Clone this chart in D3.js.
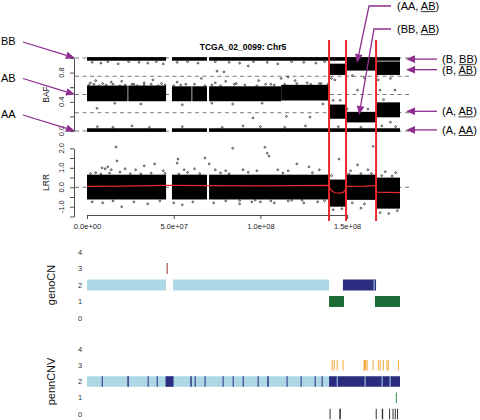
<!DOCTYPE html>
<html><head><meta charset="utf-8">
<script src="https://cdn.jsdelivr.net/npm/d3@7"></script>
<style>
html,body{margin:0;padding:0;background:#fff;}
svg{display:block;font-family:"Liberation Sans",Arial,Helvetica,sans-serif;}
</style></head><body>
<svg id="c" width="480" height="420"></svg>
<script>
// ---------------- DATA (positions in Mb) ----------------
const chartTitle = "TCGA_02_0099: Chr5";
const xTickValues = [0, 50, 100, 150];
const xTickLabels = ["0.0e+00", "5.0e+07", "1.0e+08", "1.5e+08"];
const bafTickValues = [0, 0.2, 0.4, 0.6, 0.8, 1.0];
const bafTickLabels = ["0.0", "", "0.4", "", "0.8", ""];
const lrrTickValues = [-1.5, -1, -0.5, 0, 0.5, 1, 1.5, 2];
const lrrTickLabels = ["", "-1.0", "", "0.0", "", "1.0", "", "2.0"];
const bafRefLines = [0, 0.25, 0.5, 0.75, 1];
const lrrRefLines = [0];
const breakpoints = [139.6, 149.4, 166.7];

// dense BAF clusters (start, end, low, high)
const bafBandStart = [0, 49.0, 70.4,   0, 49.0, 70.4,   0, 23.8, 49.0, 60.7, 70.4, 112,   139.6, 139.6, 149.4, 149.4, 166.7, 166.7];
const bafBandEnd   = [45.6, 69.2, 180.5, 45.6, 69.2, 180.5, 23.4, 45.6, 60.3, 69.2, 112, 139.6, 149.4, 149.4, 166.7, 166.7, 180.5, 180.5];
const bafBandLow   = [0.975, 0.975, 0.975, 0, 0, 0, 0.42, 0.42, 0.42, 0.42, 0.42, 0.43, 0.78, 0.18, 0.84, 0.13, 0.78, 0.20];
const bafBandHigh  = [1, 1, 1, 0.025, 0.025, 0.025, 0.61, 0.61, 0.60, 0.60, 0.60, 0.62, 0.91, 0.35, 0.96, 0.25, 0.94, 0.38];

// scattered BAF points
const bafPointX = [3,8,12,18,24,30,35,40,44,52,58,64,74,82,88,96,104,110,118,125,132,137,75,79,93,
  2,5,9,14,20,27,33,38,43,52,57,66,74,80,86,99,106,112,116,120,127,134,
  5.8,16,31,55,72,84,95.7,101,115,128.6,136,
  6,15,26,36,55,78,90,100,114,126,145,158,170,178,
  146,156,169,177.6,171,141,143,153,160,168,175,142,150,162,175,
  1,4,7,11,15,19,22,26,29,33,37,41,45,50,54,62,68,72,77,85,91,98,103,108,114,121,129,135,139];
const bafPointY = [0.94,0.93,0.95,0.92,0.95,0.94,0.93,0.95,0.92,0.94,0.95,0.93,0.95,0.94,0.93,0.95,0.94,0.92,0.95,0.94,0.93,0.95,0.82,0.81,0.89,
  0.66,0.69,0.65,0.67,0.68,0.64,0.66,0.70,0.65,0.67,0.64,0.72,0.66,0.68,0.65,0.69,0.64,0.72,0.74,0.69,0.66,0.65,
  0.31,0.38,0.37,0.36,0.38,0.37,0.18,0.38,0.20,0.19,0.37,
  0.06,0.05,0.07,0.05,0.06,0.05,0.07,0.06,0.05,0.07,0.06,0.05,0.07,0.06,
  0.42,0.56,0.56,0.56,0.43,0.72,0.70,0.76,0.73,0.70,0.72,0.42,0.30,0.30,0.12,
  0.63,0.64,0.62,0.63,0.64,0.62,0.63,0.64,0.62,0.63,0.64,0.62,0.63,0.62,0.63,0.64,0.62,0.63,0.62,0.64,0.63,0.62,0.64,0.63,0.64,0.65,0.64,0.65,0.64];

// dense LRR clusters
const lrrBandStart = [0, 49.0, 70.4, 139.6, 149.4, 166.7];
const lrrBandEnd   = [45.6, 69.2, 139.6, 149.4, 166.7, 180.5];
const lrrBandLow   = [-0.58, -0.58, -0.58, -0.95, -0.6, -1.05];
const lrrBandHigh  = [0.6, 0.6, 0.6, 0.35, 0.6, 0.45];

// scattered LRR points
const lrrPointX = [16.7,17.3,8.7,10.5,12,14,22,28,33,39,44,52,52.5,56,62,68,70.5,74,80,84,90,98,102.6,104,105,110,116,121,128,134,145.3,141,156,158,165,152,162,172,178,
  3,9,15,20,27,35,42,50,55,61,73,80,88,95,100,108,116,125,133,142,147,153,160,169,174,179,
  5,19,37,58,77,93,113,130,2,8,13,25,31,45,53,65,82,88,97,106,118,124,137,151,158,164,170,176];
const lrrPointY = [2.07,1.35,1.0,0.95,1.05,0.9,0.95,0.9,1.1,1.2,0.85,1.24,1.45,0.9,0.95,1.5,1.2,0.9,0.85,2.0,0.9,0.85,2.05,1.75,1.6,0.9,0.85,1.2,1.05,0.9,1.45,0.6,1.15,-1.07,2.1,0.85,0.9,0.8,0.75,
  -0.75,-0.8,-0.7,-1.0,-0.75,-0.85,-0.7,-0.8,-0.9,-0.75,-0.8,-0.7,-0.85,-0.75,-0.75,-0.8,-0.7,-0.8,-0.75,-1.15,-1.1,-0.8,-0.85,-1.3,-1.35,-1.2,
  0.75,0.78,0.72,0.76,0.74,0.77,0.73,0.75,0.7,0.68,0.72,0.7,0.69,0.71,0.68,0.7,0.69,-0.68,-0.66,-0.7,-0.67,-0.66,-0.69,0.68,0.7,0.7,0.6,0.58];

// smoothed LRR (red line)
const lrrSmoothX = [0, 20, 45, 49, 70, 100, 120, 139.4, 140, 141.5, 143, 146, 148, 149.2, 149.6, 160, 166.5, 166.8, 180.5];
const lrrSmoothY = [0.05, 0.06, 0.1, 0.1, 0.08, 0.07, 0.08, 0.1, -0.05, -0.2, -0.28, -0.3, -0.25, -0.1, 0.05, 0.06, 0.08, -0.25, -0.27];

// genoCN calls
const genoStart = [0, 49.6, 147.6, 165.3, 139.6, 166.1, 45.9];
const genoEnd   = [45.6, 139.6, 166.7, 165.6, 148.2, 180.5, 46.6];
const genoCN    = [2, 2, 2, 2, 1, 1, 3];
const genoState = ["het", "het", "loh", "het", "del", "del", "dup"];

// pennCNV calls
const pennStart = [0, 139.6,
  8.5, 23.3, 35.0, 40.2, 45.3, 59.6, 62.1, 67.8, 78.2, 84.0, 89.8, 98.4, 104.0, 115.1, 123.2, 131.3, 135.3,
  144.0, 160.1, 169.9, 174.5,
  141.1, 142.3, 144.0, 147.4, 159.5, 161.3, 164.7, 167.7, 168.8, 170.6, 172.7, 173.5, 179.3,
  178.1,
  139.9, 145.5, 166.5, 170.0, 174.2, 176.2, 177.5, 178.8];
const pennEnd = [139.6, 180.5,
  8.9, 24.1, 35.4, 40.6, 49.9, 60.4, 62.5, 68.2, 78.6, 84.4, 90.2, 98.8, 104.8, 115.5, 123.6, 131.7, 135.7,
  144.4, 160.5, 170.3, 174.9,
  141.4, 142.6, 144.3, 147.7, 161.0, 161.6, 165.0, 168.0, 169.2, 170.9, 173.0, 173.8, 179.6,
  178.4,
  140.2, 146.4, 166.8, 170.8, 174.5, 176.5, 177.8, 179.1];
const pennCN = [2, 2,
  2,2,2,2,2,2,2,2,2,2,2,2,2,2,2,2,2,
  2,2,2,2,
  3,3,3,3,3,3,3,3,3,3,3,3,3,
  1,
  0,0,0,0,0,0,0,0];
const pennState = ["het", "loh",
  "loh","loh","loh","loh","loh","loh","loh","loh","loh","loh","loh","loh","loh","loh","loh","loh","loh",
  "het","het","het","het",
  "dup","dup","dup","dup","dup","dup","dup","dup","dup","dup","dup","dup","dup",
  "del",
  "zero","zero","zero","zero","zero","zero","zero","zero"];

const cnTicks = [0, 1, 2, 3, 4];

// annotations
const leftLabels = ["BB", "AB", "AA"];
const leftTargets = [1, 0.5, 0];
const rightLabels = ["(B, BB)", "(B, AB)", "(A, AB)", "(A, AA)"];
const rightUnder = [[4, 2], [4, 2], [4, 2], [4, 2]];
const rightTargets = [0.985, 0.84, 0.27, 0.015];
const topLabels = ["(AA, AB)", "(BB, AB)"];
const topUnder = [[5, 2], [5, 2]];
const topTargetX = [155.7, 156.9];
const topTargetY = [0.93, 0.22];

// ---------------- DRAWING ----------------
const svg = d3.select("#c");
const x = d3.scaleLinear().domain([0, 150]).range([87, 347.1]);
const yB = d3.scaleLinear().domain([0, 1]).range([131, 58]);
const yL = d3.scaleLinear().domain([-1.5, 2]).range([216.5, 148.3]);
const yG = d3.scaleLinear().domain([0, 4]).range([318, 252]);
const yP = d3.scaleLinear().domain([0, 4]).range([414, 349]);
const PURPLE = "#8E2E8E", RED = "#E8292B";
const genoColor = {het: "#ADD8E6", loh: "#2C2E82", del: "#1D6B36", dup: "#A85A5A"};
const pennColor = {het: "#ADD8E6", loh: "#2A2C80", del: "#2E8B4A", dup: "#F5A93A", zero: "#333"};
const R = 0.9;

// title
svg.append("text").attr("x", 243).attr("y", 50).attr("text-anchor", "middle")
  .attr("font-size", 8.5).attr("font-weight", "bold").text(chartTitle);

// reference dashed lines
svg.append("g").selectAll("line").data(bafRefLines).join("line")
  .attr("x1", 75).attr("x2", 410).attr("y1", d => yB(d)).attr("y2", d => yB(d))
  .attr("stroke", "#555").attr("stroke-width", 0.8).attr("stroke-dasharray", "4,3.5");
svg.append("g").selectAll("line").data(lrrRefLines).join("line")
  .attr("x1", 75).attr("x2", 410).attr("y1", d => yL(d)).attr("y2", d => yL(d))
  .attr("stroke", "#555").attr("stroke-width", 0.8).attr("stroke-dasharray", "4,3.5");

// BAF bands
svg.append("g").selectAll("rect").data(d3.range(bafBandStart.length)).join("rect")
  .attr("x", i => x(bafBandStart[i])).attr("width", i => x(bafBandEnd[i]) - x(bafBandStart[i]))
  .attr("y", i => yB(bafBandHigh[i]) - R)
  .attr("height", i => yB(bafBandLow[i]) - yB(bafBandHigh[i]) + 2 * R)
  .attr("fill", "#000");
svg.append("g").selectAll("circle").data(d3.range(bafPointX.length)).join("circle")
  .attr("cx", i => x(bafPointX[i])).attr("cy", i => yB(bafPointY[i])).attr("r", R)
  .attr("fill", "none").attr("stroke", "#111").attr("stroke-width", 0.7);

// LRR bands
svg.append("g").selectAll("rect").data(d3.range(lrrBandStart.length)).join("rect")
  .attr("x", i => x(lrrBandStart[i])).attr("width", i => x(lrrBandEnd[i]) - x(lrrBandStart[i]))
  .attr("y", i => yL(lrrBandHigh[i]) - R)
  .attr("height", i => yL(lrrBandLow[i]) - yL(lrrBandHigh[i]) + 2 * R)
  .attr("fill", "#000");
svg.append("g").selectAll("circle").data(d3.range(lrrPointX.length)).join("circle")
  .attr("cx", i => x(lrrPointX[i])).attr("cy", i => yL(lrrPointY[i])).attr("r", R)
  .attr("fill", "none").attr("stroke", "#111").attr("stroke-width", 0.7);
svg.append("path").datum(d3.range(lrrSmoothX.length))
  .attr("d", d3.line().x(i => x(lrrSmoothX[i])).y(i => yL(lrrSmoothY[i])))
  .attr("fill", "none").attr("stroke", RED).attr("stroke-width", 1.2);

// axes
function styleAxis(g) {
  g.attr("font-family", null).attr("font-size", null);
  g.selectAll("path,line").attr("stroke", "#222").attr("stroke-width", 0.8);
  g.selectAll("text").attr("font-size", 7.5).attr("fill", "#222");
}
svg.append("g").attr("transform", "translate(0,215)")
  .call(d3.axisBottom(x).tickValues(xTickValues).tickFormat((d, i) => xTickLabels[i]).tickSize(4).tickSizeOuter(0).tickPadding(5))
  .call(styleAxis);
svg.append("g").attr("transform", "translate(74,0)")
  .call(d3.axisLeft(yB).tickValues(bafTickValues).tickFormat("").tickSize(4).tickSizeOuter(0))
  .call(styleAxis);
svg.append("g").attr("transform", "translate(74,0)")
  .call(d3.axisLeft(yL).tickValues(lrrTickValues).tickFormat("").tickSize(4).tickSizeOuter(0))
  .call(styleAxis);
function rotLabels(vals, labs, scale) {
  vals.forEach((v, i) => {
    if (!labs[i]) return;
    svg.append("text").attr("transform", `translate(63.8,${scale(v)}) rotate(-90)`)
      .attr("text-anchor", "middle").attr("font-size", 7.5).attr("fill", "#222").text(labs[i]);
  });
}
rotLabels(bafTickValues, bafTickLabels, yB);
rotLabels(lrrTickValues, lrrTickLabels, yL);
function yTitle(txt, cx, cy, size) {
  svg.append("text").attr("transform", `translate(${cx},${cy}) rotate(-90)`)
    .attr("text-anchor", "middle").attr("font-size", size).attr("fill", "#111").text(txt);
}
yTitle("BAF", 48.5, yB(0.5), 8.5);
yTitle("LRR", 48.5, yL(0.25), 8.5);
yTitle("genoCN", 55, yG(2), 11);
yTitle("pennCNV", 55, yP(2), 11);

// breakpoints
svg.append("g").selectAll("line").data(breakpoints).join("line")
  .attr("x1", d => x(d)).attr("x2", d => x(d)).attr("y1", 40).attr("y2", 221)
  .attr("stroke", RED).attr("stroke-width", 2);

// copy-number tracks
function cnTrack(starts, ends, cns, states, colors, ys, h) {
  svg.append("g").selectAll("rect").data(d3.range(starts.length)).join("rect")
    .attr("x", i => x(starts[i])).attr("width", i => Math.max(1, x(ends[i]) - x(starts[i])))
    .attr("y", i => ys(cns[i]) - h / 2).attr("height", h)
    .attr("fill", i => colors[states[i]]);
  svg.append("g").selectAll("text").data(cnTicks).join("text")
    .attr("x", 80).attr("y", d => ys(d) + 2.7).attr("text-anchor", "middle")
    .attr("font-size", 7.5).attr("fill", "#333").text(d => d);
}
cnTrack(genoStart, genoEnd, genoCN, genoState, genoColor, yG, 11);
cnTrack(pennStart, pennEnd, pennCN, pennState, pennColor, yP, 10.5);

// annotations
function arrow(pts) {
  const n = pts.length, tip = pts[n - 1], prev = pts[n - 2];
  const dx = tip[0] - prev[0], dy = tip[1] - prev[1], L = Math.hypot(dx, dy);
  const ux = dx / L, uy = dy / L, hl = 9, hw = 3.8;
  const base = [tip[0] - ux * hl, tip[1] - uy * hl];
  const line = pts.slice(0, n - 1).concat([base]);
  svg.append("path").attr("d", d3.line()(line)).attr("fill", "none")
    .attr("stroke", PURPLE).attr("stroke-width", 1.3);
  svg.append("path").attr("d", d3.line()([tip, [base[0] - uy * hw, base[1] + ux * hw], [base[0] + uy * hw, base[1] - ux * hw]]) + "Z")
    .attr("fill", PURPLE);
}
function rich(x0, y0, str, ul, size) {
  const t = svg.append("text").attr("x", x0).attr("y", y0).attr("font-size", size).attr("fill", "#000").text(str);
  if (ul) {
    const n = t.node();
    const off = n.getSubStringLength(0, ul[0]);
    const w = n.getSubStringLength(ul[0], ul[1]);
    svg.append("line").attr("x1", x0 + off).attr("x2", x0 + off + w)
      .attr("y1", y0 + 1.6).attr("y2", y0 + 1.6).attr("stroke", "#000").attr("stroke-width", 0.8);
  }
}
leftLabels.forEach((lab, i) => {
  const ty = yB(leftTargets[i]);
  rich(1, ty - 13, lab, null, 11);
  arrow([[23, ty - 16], [75, ty]]);
});
rightLabels.forEach((lab, i) => {
  const ty = yB(rightTargets[i]);
  rich(442, ty + 4, lab, rightUnder[i], 11);
  arrow([[437, ty], [406, ty]]);
});
const topY = [6, 29], topElbow = [369, 374];
topLabels.forEach((lab, i) => {
  rich(397, topY[i] + 4, lab, topUnder[i], 11);
  arrow([[391, topY[i]], [topElbow[i], topY[i]], [x(topTargetX[i]), yB(topTargetY[i])]]);
});
</script></body></html>
